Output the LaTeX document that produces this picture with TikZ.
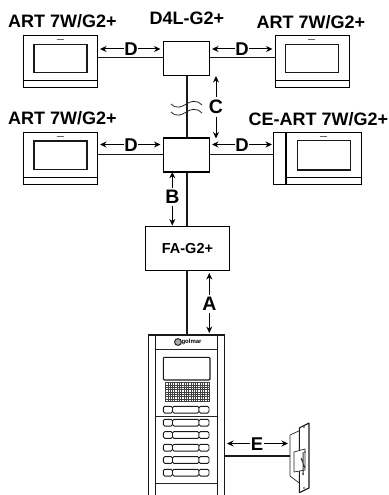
\documentclass[tikz,border=0pt]{standalone}
\usepackage{fontspec}
\setmainfont{Liberation Sans}
\usetikzlibrary{arrows.meta}
\tikzset{
  x=1pt,y=-1pt,
  title/.style={font=\fontsize{18}{20}\selectfont\bfseries,inner sep=0pt,text=black},
  letterD/.style={font=\fontsize{18.5}{20}\selectfont\bfseries,inner sep=.6pt,text=black},
  letterB/.style={font=\fontsize{19.5}{21}\selectfont\bfseries,inner sep=2.5pt,text=black},
  hub/.style={draw=black,line width=1.2pt,fill=white,inner sep=0pt},
  wire/.style={line width=1.4pt,draw=black!90},
  dim/.style={line width=1pt,draw=black,-{Stealth[length=6.5pt,width=6pt]}},
  part/.style={line width=1.1pt,draw=black!90},
  thin part/.style={line width=.7pt,draw=black!85},
  btn/.style={line width=.9pt,draw=black!90,rounded corners=1.5pt,fill=white},
}
\newcommand{\monitor}[3]{% x-left, y-top, name
  \node[hub,anchor=north west,minimum width=74pt,minimum height=52pt] (#3) at (#1,#2) {};
  \draw[part] (#1+11,#2+9.5) rectangle (#1+64,#2+38);
  \draw[line width=1.5pt,draw=black] (#1,#2+46) -- (#1+74,#2+46);
  \draw[line width=.5pt,draw=black!60] (#1+33.5,#2+4.5) -- (#1+40.5,#2+4.5);
}
\begin{document}
\begin{tikzpicture}
\useasboundingbox (0,0) rectangle (388,495);
\fill[white] (0,0) rectangle (388,495);

% monitors
\monitor{23}{34.7}{m1}
\monitor{274.7}{34.7}{m2}
\monitor{23}{131.5}{m3}
\node[hub,anchor=north west,minimum width=88.3pt,minimum height=52pt] (m4) at (272.7,131.5) {};
\draw[part] (297.3,140.7) rectangle (350.7,170);
\draw[line width=1.5pt,draw=black] (286,177.5) -- (361,177.5);
\draw[line width=.5pt,draw=black!60] (319.5,136) -- (326.5,136);
\draw[line width=1.5pt,draw=black] (286,131.5) -- (286,183.5);

% distributors and adapter
\node[hub,anchor=north west,minimum width=46pt,minimum height=34pt] (d1) at (163,40.7) {};
\node[hub,anchor=north west,minimum width=46pt,minimum height=34pt] (d2) at (163,137.3) {};
\node[hub,anchor=north west,minimum width=83.7pt,minimum height=43.7pt,font=\fontsize{14.5}{16}\selectfont\bfseries] (fa) at (145,226) {FA-G2+};

% door panel
\node[inner sep=0pt,anchor=north west,minimum width=76pt,minimum height=160pt] (panel) at (148.3,335) {};
\draw[line width=1.2pt,draw=black!90] (148.3,495) -- (148.3,335) -- (224.3,335) -- (224.3,495);
\draw[part] (155.7,335) -- (155.7,495) (217.3,335) -- (217.3,495);
\draw[thin part] (155.7,349.3) -- (217.3,349.3) (155.7,416) -- (217.3,416) (155.7,483) -- (217.3,483);
\draw[part,rounded corners=1pt] (163.3,357.3) rectangle (210,380);
\foreach \i in {0,...,19} \draw[line width=.6pt,draw=black!75] (165.5+\i*2.3,382) -- (165.5+\i*2.3,402);
\foreach \i in {0,...,8} \draw[line width=.6pt,draw=black!75] (165,382.6+\i*2.35) -- (210,382.6+\i*2.35);
\foreach \yy in {409.7,422.7,435,447.7,460,472.7} {
  \draw[btn] (163.3,\yy-3.4) rectangle (172.5,\yy+3.4);
  \draw[btn] (172.5,\yy-3.4) rectangle (199,\yy+3.4);
  \draw[btn] (199,\yy-3.4) rectangle (209,\yy+3.4);
}
\draw[line width=1pt,draw=black!85,fill=black!35] (178,342) circle (3.4pt);
\node[inner sep=0pt,font=\fontsize{6}{6}\selectfont\bfseries] (logo) at (191.5,342) {golmar};

% lock
\node[inner sep=0pt,anchor=north west,minimum width=19pt,minimum height=70pt] (lock) at (290,423) {};
\draw[thin part] (290,435) -- (299.3,430.7) (290,435) -- (290,476) -- (299.3,483);
\draw[part,line join=round] (299.3,428) -- (309,423) -- (309,488) -- (299.3,492.7) -- cycle;
\draw[thin part,fill=white] (294,452) -- (305,449) -- (305,470) -- (294,472) -- cycle;
\draw[line width=1pt,draw=black!80] (303,452) -- (303,475) (301,458) -- (305,468);
\foreach \p in {(304,427),(304,488),(305,452),(303,474)} \fill[black!80] \p circle (.9pt);

% connectors
\coordinate (w1) at (187,57.3);
\coordinate (w2) at (187,154.3);
\draw[wire] (m1.east |- w1) -- (d1.west |- w1);
\draw[wire] (d1.east |- w1) -- (m2.west |- w1);
\draw[wire] (m3.east |- w2) -- (d2.west |- w2);
\draw[wire] (d2.east |- w2) -- (m4.west |- w2);
\draw[wire] (w1 |- d1.south) -- (w1 |- d2.north);
\draw[wire] (w2 |- d2.south) -- (w2 |- fa.north);
\draw[wire] (w2 |- fa.south) -- (w2 |- panel.north);
\draw[wire] (panel.east |- 0,456) -- (lock.west |- 0,456);

% cable break
\coordinate (b1a) at (171,104);
\coordinate (b1b) at (202,105);
\coordinate (b2a) at (171,112);
\coordinate (b2b) at (202,113);
\draw[line width=.8pt,draw=black!85] (b1a) .. controls (183,115) and (189,93) .. (b1b);
\draw[line width=.8pt,draw=black!85] (b2a) .. controls (183,123) and (189,101) .. (b2b);

% titles
\node[title] (t1) at (62.5,21) {ART 7W/G2+};
\node[title] (t2) at (187,18.5) {D4L-G2+};
\node[title] (t3) at (311,22) {ART 7W/G2+};
\node[title] (t4) at (62.5,118) {ART 7W/G2+};
\node[title] (t5) at (318.5,119) {CE-ART 7W/G2+};

% dimension letters
\node[letterD] (D1) at (131,49.5) {D};
\coordinate (D1l) at (100,49); \coordinate (D1r) at (160.5,49);
\draw[dim] (D1.west |- D1l) -- (D1l); \draw[dim] (D1.east |- D1l) -- (D1r);
\node[letterD] (D2) at (242,49.5) {D};
\coordinate (D2l) at (212,49); \coordinate (D2r) at (272.5,49);
\draw[dim] (D2.west |- D2l) -- (D2l); \draw[dim] (D2.east |- D2l) -- (D2r);
\node[letterD] (D3) at (131,145) {D};
\coordinate (D3l) at (100,144.5); \coordinate (D3r) at (160.5,144.5);
\draw[dim] (D3.west |- D3l) -- (D3l); \draw[dim] (D3.east |- D3l) -- (D3r);
\node[letterD] (D4) at (242,145) {D};
\coordinate (D4l) at (212,144.5); \coordinate (D4r) at (272,144.5);
\draw[dim] (D4.west |- D4l) -- (D4l); \draw[dim] (D4.east |- D4l) -- (D4r);

\node[letterB] (C) at (216,107) {C};
\coordinate (Cu) at (216,76); \coordinate (Cd) at (216,138.5);
\draw[dim] (C) -- (Cu); \draw[dim] (C) -- (Cd);
\node[letterB] (B) at (172.3,197) {B};
\coordinate (Bu) at (172.3,171.8); \coordinate (Bd) at (172.3,225.5);
\draw[dim] (B) -- (Bu); \draw[dim] (B) -- (Bd);
\node[letterB] (A) at (209.3,304) {A};
\coordinate (Au) at (209.3,273); \coordinate (Ad) at (209.3,333);
\draw[dim] (A) -- (Au); \draw[dim] (A) -- (Ad);
\node[letterD] (E) at (257,444) {E};
\coordinate (El) at (227,443.5); \coordinate (Er) at (288,443.5);
\draw[dim] (E.west |- El) -- (El); \draw[dim] (E.east |- El) -- (Er);
\end{tikzpicture}
\end{document}
